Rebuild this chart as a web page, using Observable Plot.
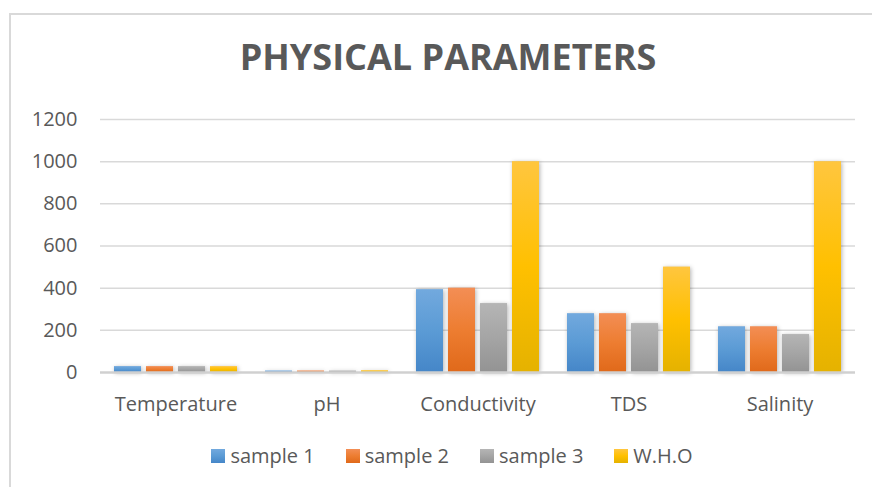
<!DOCTYPE html>
<html>
<head>
<meta charset="utf-8">
<script src="https://cdn.jsdelivr.net/npm/d3@7"></script>
<script src="https://cdn.jsdelivr.net/npm/@observablehq/plot@0.6"></script>
<style>
  html, body { margin: 0; padding: 0; background: #fff; }
  #wrap { position: relative; width: 872px; height: 487px; overflow: hidden; font-family: "Open Sans", sans-serif; color: #595959; }
  #frame { position: absolute; left: 9px; top: 13px; width: 900px; height: 500px; border-left: 2px solid #d9d9d9; border-top: 2px solid #d9d9d9; box-sizing: border-box; }
  #title { position: absolute; left: 0; top: 37px; width: 896px; text-align: center; font-weight: 700; font-size: 36px; line-height: 40px; color: #595959; white-space: nowrap; }
  #chart { position: absolute; left: 0; top: 0; }
  #legend { position: absolute; left: 0; top: 446px; width: 872px; height: 20px; font-size: 20px; line-height: 20px; color: #595959; white-space: nowrap; }
  #legend .item { position: absolute; top: 0; display: flex; align-items: center; gap: 5px; }
  #legend .sw { width: 14px; height: 14px; display: inline-block; }
</style>
</head>
<body>
<div id="wrap">
  <div id="frame"></div>
  <div id="title"></div>
  <div id="chart"></div>
  <div id="legend"></div>
</div>
<script>
const title = "PHYSICAL PARAMETERS";
const categories = ["Temperature", "pH", "Conductivity", "TDS", "Salinity"];
const series = ["sample 1", "sample 2", "sample 3", "W.H.O"];
const sample1 = [28, 7.2, 393, 279, 217];
const sample2 = [28, 7.3, 400, 279, 217];
const sample3 = [28, 7.1, 327, 232, 180];
const who = [28, 8.5, 1000, 500, 1000];
const yTicks = [0, 200, 400, 600, 800, 1000, 1200];

const seriesValues = [sample1, sample2, sample3, who];
const gradStops = [
  ["#72a9de", "#5b9bd5", "#4586c8"],
  ["#f38e55", "#ed7d31", "#e0691a"],
  ["#b5b5b5", "#a5a5a5", "#939393"],
  ["#ffc63f", "#ffc000", "#e5b200"]
];
const gradIds = series.map((s, i) => "grad" + i);

const data = [];
categories.forEach((c, ci) => {
  series.forEach((s, si) => {
    data.push({category: c, series: s, value: seriesValues[si][ci]});
  });
});

document.getElementById("title").textContent = title;

const plot = Plot.plot({
  width: 872,
  height: 430,
  marginTop: 119,
  marginBottom: 58,
  marginLeft: 98,
  marginRight: 15,
  style: {fontFamily: "Open Sans, sans-serif", fontSize: "20px", color: "#595959", background: "transparent"},
  facet: {data, x: "category"},
  fx: {domain: categories, padding: 0, axis: "bottom", label: null, tickSize: 0, tickPadding: 24},
  x: {domain: series, paddingInner: 5 / 33, paddingOuter: 0.376, axis: null},
  y: {domain: [0, 1200], ticks: yTicks, tickFormat: d => String(d), tickSize: 0, tickPadding: 23, label: null},
  color: {domain: series, range: gradIds.map(id => `url(#${id})`)},
  marks: [
    Plot.ruleY(yTicks.filter(d => d > 0), {stroke: "#d9d9d9", strokeWidth: 1.5}),
    Plot.barY(data, {x: "series", y: "value", fill: "series"}),
    Plot.ruleY([0], {stroke: "#d0d0d0", strokeWidth: 2.5})
  ]
});

// gradient definitions
const svgNS = "http://www.w3.org/2000/svg";
const defs = document.createElementNS(svgNS, "defs");
gradIds.forEach((id, i) => {
  const lg = document.createElementNS(svgNS, "linearGradient");
  lg.setAttribute("id", id);
  lg.setAttribute("x1", "0"); lg.setAttribute("y1", "0");
  lg.setAttribute("x2", "0"); lg.setAttribute("y2", "1");
  [0, 0.5, 1].forEach((o, k) => {
    const st = document.createElementNS(svgNS, "stop");
    st.setAttribute("offset", o);
    st.setAttribute("stop-color", gradStops[i][k]);
    lg.appendChild(st);
  });
  defs.appendChild(lg);
});
plot.insertBefore(defs, plot.firstChild);
d3.select(plot).selectAll("g[aria-label='bar']").style("filter", "drop-shadow(1.5px 1px 2px rgba(0,0,0,0.3))");

document.getElementById("chart").appendChild(plot);

// legend: items laid out left to right, centred under the chart
const legend = document.getElementById("legend");
const items = series.map((s, i) => {
  const item = document.createElement("div");
  item.className = "item";
  const sw = document.createElement("span");
  sw.className = "sw";
  sw.style.background = `linear-gradient(${gradStops[i][0]}, ${gradStops[i][1]}, ${gradStops[i][2]})`;
  const t = document.createElement("span");
  t.textContent = s;
  item.appendChild(sw);
  item.appendChild(t);
  legend.appendChild(item);
  return item;
});
const legendGap = 31;
const widths = items.map(it => it.getBoundingClientRect().width);
const total = d3.sum(widths) + legendGap * (items.length - 1);
let xPos = 452 - total / 2;
items.forEach((it, i) => { it.style.left = xPos + "px"; xPos += widths[i] + legendGap; });
</script>
</body>
</html>
